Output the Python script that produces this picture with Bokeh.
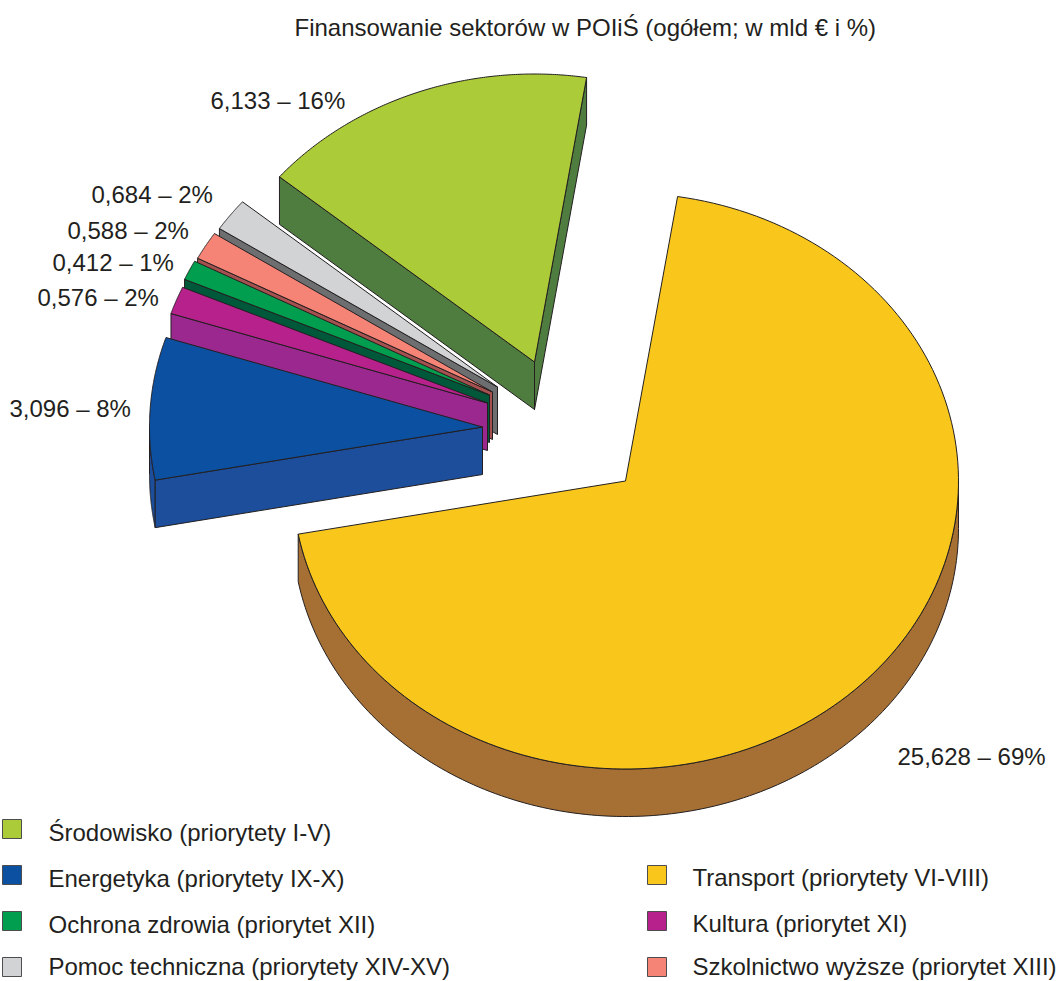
import numpy as np
from bokeh.plotting import figure
from bokeh.models import Range1d
from bokeh.core.properties import value
from bokeh.embed import file_html
from bokeh.resources import INLINE

title_text = "Finansowanie sektorów w POIiŚ (ogółem; w mld € i %)"
sectors = ["Transport", "Energetyka", "Kultura", "Ochrona zdrowia", "Szkolnictwo wyższe", "Pomoc techniczna", "Środowisko"]
amounts = [25.628, 3.096, 0.576, 0.412, 0.588, 0.684, 6.133]
percents = [69, 8, 2, 1, 2, 2, 16]
top_colors = ["#F9C61C", "#0C50A2", "#B7218B", "#009E4E", "#F58477", "#D1D3D5", "#ACCB38"]
wall_colors = ["#A66F33", "#1D4E9B", "#9B288E", "#00583A", "#A5514F", "#6D6E70", "#4F7D40"]
legend_left = ["Środowisko (priorytety I-V)", "Energetyka (priorytety IX-X)", "Ochrona zdrowia (priorytet XII)", "Pomoc techniczna (priorytety XIV-XV)"]
legend_left_colors = ["#ACCB38", "#0C50A2", "#009E4E", "#D1D3D5"]
legend_right = ["Transport (priorytety VI-VIII)", "Kultura (priorytet XI)", "Szkolnictwo wyższe (priorytet XIII)"]
legend_right_colors = ["#F9C61C", "#B7218B", "#F58477"]

# layout of the exploded pie (reference pixel space)
apex_x = [626, 483, 488, 490, 493, 498, 535]
apex_y = [481, 427, 403, 395, 392, 387, 362]
label_x = [898, 10, 38, 53, 68, 92, 211]
label_y = [756.5, 408.5, 297.5, 262.5, 230.5, 194.5, 100.5]
RX, RY, DEPTH = 333, 288, 47.5
START = 9.5
# small correction for the tilt of the original projection, per slice boundary
boundary_nudge = [-0.5, 1.3, 0, 0, 0, 0, 0, -0.5]
INK = "#231F20"
FONT = value("Liberation Sans")
SIZE = "24px"

p = figure(width=1060, height=981, output_backend="svg", toolbar_location=None,
           x_range=Range1d(1, 1061), y_range=Range1d(981.5, 0.5), min_border=0)
p.axis.visible = False
p.grid.visible = False
p.outline_line_color = None
p.background_fill_color = "white"

sweeps = np.array(amounts) / sum(amounts) * 360
bounds = START + np.concatenate([[0], np.cumsum(sweeps)]) + np.array(boundary_nudge)
starts, ends = bounds[:-1], bounds[1:]


def ring(cx, cy, a0, a1, n=160):
    t = np.radians(np.linspace(a0, a1, n))
    return cx + RX * np.sin(t), cy - RY * np.cos(t)


for i in [5, 4, 3, 2, 1, 6, 0]:
    cx, cy = apex_x[i], apex_y[i]
    a0, a1 = starts[i], ends[i]
    xs, ys, cs = [], [], []
    r0, r1 = max(a0, 90), min(a1, 270)
    if r1 > r0:
        rx, ry = ring(cx, cy, r0, r1)
        xs.append(list(rx) + list(rx[::-1]))
        ys.append(list(ry) + list(ry[::-1] + DEPTH))
        cs.append(wall_colors[i])
    faces = []
    if a0 % 360 > 180:
        faces.append(a0)
    if a1 % 360 < 180:
        faces.append(a1)
    for ang in faces:
        ex, ey = ring(cx, cy, ang, ang, 1)
        xs.append([cx, ex[0], ex[0], cx])
        ys.append([cy, ey[0], ey[0] + DEPTH, cy + DEPTH])
        cs.append(wall_colors[i])
    p.patches(xs, ys, fill_color=cs, line_color=INK, line_width=1)
    tx, ty = ring(cx, cy, a0, a1)
    p.patch([cx] + list(tx), [cy] + list(ty), fill_color=top_colors[i], line_color=INK, line_width=1)

labels = [f"{a:.3f}".replace(".", ",") + f" – {q}%" for a, q in zip(amounts, percents)]
p.text(label_x, label_y, text=labels, text_font=FONT, text_font_size=SIZE, text_color=INK,
       text_baseline="middle", text_align="left")
p.text([295], [27.5], text=[title_text], text_font=FONT, text_font_size=SIZE, text_color=INK,
       text_baseline="middle", text_align="left")

left_rows = [829, 875, 921, 967]
right_rows = [875, 921, 967]
left_text_rows = [832, 878, 924, 966]
right_text_rows = [877, 923, 966]
p.rect([12.5] * 4, left_rows, width=19, height=19, fill_color=legend_left_colors, line_color="#4D4D4F", line_width=1)
p.rect([657.5] * 3, right_rows, width=19, height=19, fill_color=legend_right_colors, line_color="#4D4D4F", line_width=1)
p.text([49] * 4, left_text_rows, text=legend_left, text_font=FONT, text_font_size=SIZE, text_color=INK,
       text_baseline="middle")
p.text([693] * 3, right_text_rows, text=legend_right, text_font=FONT, text_font_size=SIZE, text_color=INK,
       text_baseline="middle")

open("out.html", "w").write(file_html(p, INLINE))
